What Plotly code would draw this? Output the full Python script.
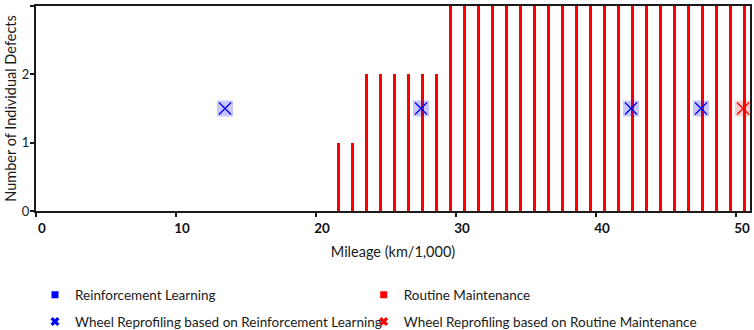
import plotly.graph_objects as go

# Data
routine_mileage = [21.6, 22.6, 23.6, 24.6, 25.6, 26.6, 27.6, 28.6, 29.6, 30.6,
                   31.6, 32.6, 33.6, 34.6, 35.6, 36.6, 37.6, 38.6, 39.6, 40.6,
                   41.6, 42.6, 43.6, 44.6, 45.6, 46.6, 47.6, 48.6, 49.6, 50.6]
routine_defects = [1, 1, 2, 2, 2, 2, 2, 2, 3, 3,
                   3, 3, 3, 3, 3, 3, 3, 3, 3, 3,
                   3, 3, 3, 3, 3, 3, 3, 3, 3, 3]
rl_reprofile_mileage = [13.5, 27.5, 42.5, 47.5]
rl_reprofile_level = [1.5, 1.5, 1.5, 1.5]
rm_reprofile_mileage = [50.5]
rm_reprofile_level = [1.5]
x_ticks = [0, 10, 20, 30, 40, 50]
y_ticks = [0, 1, 2, 3]

BLUE = "#0000FF"
RED = "#FF0000"
FONT = "Lato"
TXT = "#1a1a1a"

fig = go.Figure()

fig.add_trace(go.Bar(x=routine_mileage, y=routine_defects, width=0.21,
                     marker=dict(color=RED, line=dict(width=0)),
                     showlegend=False, name="Routine Maintenance"))

# Reprofiling markers: translucent square + thin x
fig.add_trace(go.Scatter(x=rl_reprofile_mileage, y=rl_reprofile_level, mode="markers",
                         marker=dict(symbol="square", size=16, color="rgba(0,0,255,0.22)",
                                     line=dict(width=0)),
                         showlegend=False, hoverinfo="skip"))
fig.add_trace(go.Scatter(x=rl_reprofile_mileage, y=rl_reprofile_level, mode="markers",
                         marker=dict(symbol="x-thin", size=12, line=dict(width=1.3, color=BLUE)),
                         showlegend=False, name="Wheel Reprofiling based on Reinforcement Learning"))
fig.add_trace(go.Scatter(x=rm_reprofile_mileage, y=rm_reprofile_level, mode="markers",
                         marker=dict(symbol="square", size=16, color="rgba(255,0,0,0.2)",
                                     line=dict(width=0)),
                         showlegend=False, hoverinfo="skip"))
fig.add_trace(go.Scatter(x=rm_reprofile_mileage, y=rm_reprofile_level, mode="markers",
                         marker=dict(symbol="x-thin", size=12, line=dict(width=1.3, color=RED)),
                         showlegend=False, name="Wheel Reprofiling based on Routine Maintenance"))

# Legend-only entries, one legend per cell of a 2x2 grid
fig.add_trace(go.Scatter(x=[None], y=[None], mode="markers", name="Reinforcement Learning",
                         legend="legend",
                         marker=dict(symbol="square", size=7, color=BLUE)))
fig.add_trace(go.Scatter(x=[None], y=[None], mode="markers", name="Routine Maintenance",
                         legend="legend2",
                         marker=dict(symbol="square", size=7, color=RED)))
fig.add_trace(go.Scatter(x=[None], y=[None], mode="markers",
                         name="Wheel Reprofiling based on Reinforcement Learning",
                         legend="legend3",
                         marker=dict(symbol="x", size=8, color=BLUE, line=dict(width=0))))
fig.add_trace(go.Scatter(x=[None], y=[None], mode="markers",
                         name="Wheel Reprofiling based on Routine Maintenance",
                         legend="legend4",
                         marker=dict(symbol="x", size=8, color=RED, line=dict(width=0))))

legend_common = dict(orientation="h", xanchor="left", yanchor="middle", itemwidth=30,
                     font=dict(family=FONT, size=13.5, color=TXT),
                     bgcolor="rgba(0,0,0,0)")
col1_x, col2_x = -0.0014, 0.459
row1_y, row2_y = -0.41, -0.54

fig.update_layout(
    width=754, height=330,
    margin=dict(l=36, r=4, t=6, b=119, autoexpand=False),
    paper_bgcolor="white", plot_bgcolor="white",
    font=dict(family=FONT, size=13, color=TXT),
    bargap=0,
    showlegend=True,
    legend=dict(x=col1_x, y=row1_y, **legend_common),
    legend2=dict(x=col2_x, y=row1_y, **legend_common),
    legend3=dict(x=col1_x, y=row2_y, **legend_common),
    legend4=dict(x=col2_x, y=row2_y, **legend_common),
    xaxis=dict(range=[0, 51], tickvals=x_ticks, ticktext=[str(v) for v in x_ticks],
               ticks="outside", ticklen=4, tickwidth=1.5, tickcolor=TXT,
               showline=True, linecolor=TXT, linewidth=2, mirror=True,
               showgrid=False, zeroline=False, ticklabelshift=6,
               tickfont=dict(family=FONT, size=13.5, color="#111111", weight="bold"),
               title=dict(text="Mileage (km/1,000)", standoff=12,
                          font=dict(family=FONT, size=14.5, color=TXT))),
    yaxis=dict(range=[0, 3], tickvals=y_ticks,
               ticks="outside", ticklen=4, tickwidth=1.5, tickcolor=TXT,
               showline=True, linecolor=TXT, linewidth=2, mirror=True,
               showgrid=False, zeroline=False, ticklabelstandoff=-2,
               tickfont=dict(family=FONT, size=13, color=TXT),
               title=dict(text="Number of Individual Defects", standoff=2,
                          font=dict(family=FONT, size=14.5, color=TXT))),
)

fig.write_html("out.html", config={"displayModeBar": False},
               post_script="document.body.style.margin='0';")
